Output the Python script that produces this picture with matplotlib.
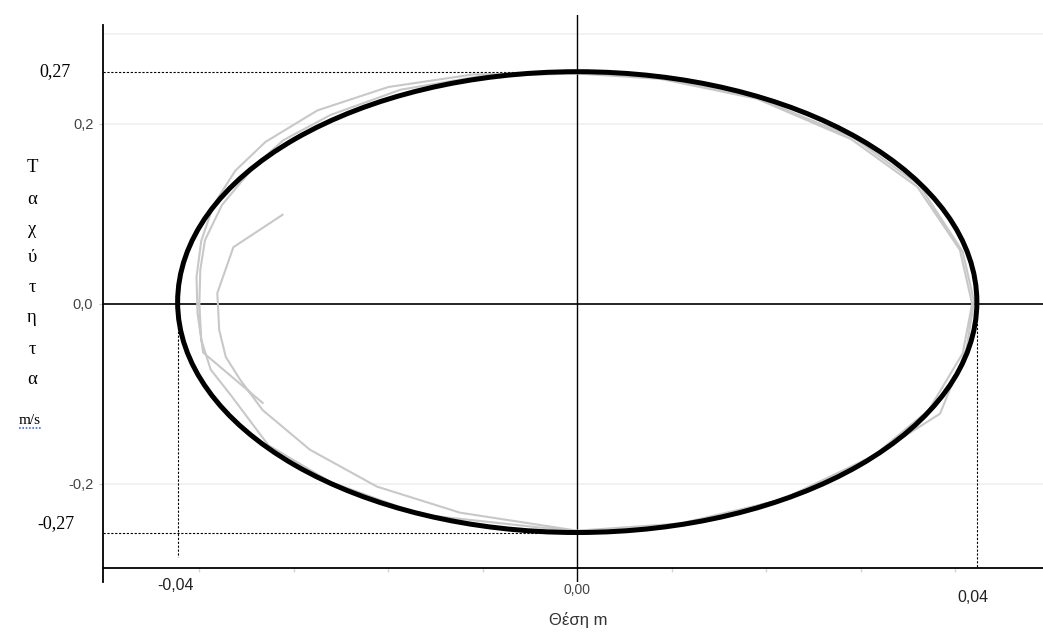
import matplotlib
matplotlib.use("Agg")
from matplotlib import pyplot as plt
from matplotlib.patches import Ellipse
from matplotlib.lines import Line2D

# ---- data ----
# fitted ellipse (centre and amplitudes of position and velocity)
centre_v = 0.002
amp_x = 0.0423
amp_v = 0.256

# measured trajectory (position m, velocity m/s)
pos = [-0.0312, -0.0364, -0.0381, -0.0379, -0.0372, -0.0357, -0.0333, -0.0283, -0.0212, -0.0124,
       0.0, 0.0109, 0.0215, 0.0310, 0.0372, 0.0408, 0.0418, 0.0405, 0.0360, 0.0290,
       0.0190, 0.0088, 0.0, -0.0103, -0.0187, -0.0261, -0.0311, -0.0341, -0.0376, -0.0394,
       -0.0399, -0.0400, -0.0398, -0.0388, -0.0367, -0.0327, -0.0261, -0.0166, 0.0, 0.0112,
       0.0220, 0.0315, 0.0384, 0.0412, 0.0420, 0.0408, 0.0362, 0.0292, 0.0188, 0.0085,
       0.0, -0.0110, -0.0200, -0.0275, -0.0330, -0.0362, -0.0385, -0.0398, -0.0403, -0.0402,
       -0.0396, -0.0333]
vel = [0.099, 0.063, 0.012, -0.029, -0.059, -0.084, -0.118, -0.162, -0.203, -0.232,
       -0.252, -0.244, -0.218, -0.172, -0.118, -0.055, 0.000, 0.060, 0.130, 0.183,
       0.228, 0.250, 0.256, 0.253, 0.238, 0.210, 0.182, 0.154, 0.110, 0.071,
       0.038, 0.0, -0.040, -0.073, -0.101, -0.157, -0.198, -0.234, -0.253, -0.246,
       -0.216, -0.168, -0.122, -0.050, 0.003, 0.058, 0.132, 0.185, 0.230, 0.252,
       0.257, 0.255, 0.241, 0.215, 0.180, 0.148, 0.110, 0.070, 0.030, -0.010,
       -0.054, -0.110]

ytick_vals = [-0.2, 0.0, 0.2]
ytick_labels = ["-0,2", "0,0", "0,2"]
grid_vals = [0.3, 0.2, -0.2]
xminor_vals = [-0.04, -0.03, -0.02, -0.01, 0.01, 0.02, 0.03, 0.04]
ylabel_letters = ["Τ", "α", "χ", "ύ", "τ", "η", "τ", "α"]

serif = "Liberation Serif"
sans = "Liberation Sans"

# ---- figure ----
W, H = 1043, 634
fig = plt.figure(figsize=(W / 100, H / 100), dpi=100)
ax = fig.add_axes([103 / W, (H - 582) / H, 1 - 103 / W, (582 - 15) / H])

ax.set_xlim(-0.0502, 0.0493)
ax.set_ylim(-0.309, 0.321)

for g in grid_vals:
    ax.axhline(g, color="#f1f1f1", lw=1.3, zorder=0)

ax.axhline(0, color="black", lw=1.2, zorder=2)
ax.axvline(0, color="black", lw=1.0, zorder=2)

# dashed guides
top_v = centre_v + amp_v
bot_v = centre_v - amp_v
dash = dict(color="black", lw=0.8, ls=(0, (2, 1.5)), zorder=2)
ax.plot([-0.0502, 0], [top_v, top_v], **dash)
ax.plot([-0.0502, 0], [bot_v, bot_v], **dash)
ax.plot([-amp_x, -amp_x], [0, -0.281], **dash)
ax.plot([amp_x, amp_x], [0, -0.293], **dash)

ax.plot(pos, vel, color="#c8c8c8", lw=1.5, zorder=3)
ax.add_patch(Ellipse((0, centre_v), 2 * amp_x, 2 * amp_v, fill=False, ec="black", lw=3.6, zorder=4))

# axes styling
for s in ["top", "right"]:
    ax.spines[s].set_visible(False)
ax.spines["left"].set_bounds(-0.309, 0.31)
ax.spines["left"].set_linewidth(1.3)
ax.spines["bottom"].set_position(("data", -0.293))
ax.spines["bottom"].set_linewidth(1.3)

ax.set_yticks(ytick_vals)
ax.set_yticklabels(ytick_labels, fontfamily=sans, fontsize=10.5, color="#444444")
ax.tick_params(axis="y", length=3, width=0.8, color="#cccccc", pad=4)

ax.set_xticks([0.0])
ax.set_xticklabels(["0,00"], fontfamily=sans, fontsize=10, color="#444444")
ax.set_xticks(xminor_vals, minor=True)
ax.tick_params(axis="x", which="major", length=0, pad=11)
ax.tick_params(axis="x", which="minor", length=3, width=1, color="#d6d6d6")

# manual annotations
fig.text(55 / W, 1 - 72 / H, "0,27", fontfamily=serif, fontsize=13, ha="center", va="center")
fig.text(56 / W, 1 - 524 / H, "-0,27", fontfamily=serif, fontsize=13, ha="center", va="center")
fig.text(176 / W, 1 - 585 / H, "-0,04", fontfamily=sans, fontsize=11.5, ha="center", va="center",
         color="#222222")
fig.text(973 / W, 1 - 597 / H, "0,04", fontfamily=sans, fontsize=11.5, ha="center", va="center",
         color="#222222")
fig.text(578 / W, 1 - 620 / H, "Θέση m", fontfamily=sans, fontsize=12, ha="center", va="center",
         color="#333333")

# stacked y label
ys = [168, 200, 229, 258, 287, 318, 350, 380]
for letter, yy in zip(ylabel_letters, ys):
    fig.text(32 / W, 1 - yy / H, letter, fontfamily=serif, fontsize=13.5, ha="center", va="center")
fig.text(30 / W, 1 - 420 / H, "m/s", fontfamily=serif, fontsize=11, ha="center", va="center")
fig.add_artist(Line2D([19 / W, 42 / W], [1 - 428 / H, 1 - 428 / H], color="#4466dd",
                      lw=1.2, ls=(0, (1, 1))))

fig.savefig("out.png", dpi=100)
